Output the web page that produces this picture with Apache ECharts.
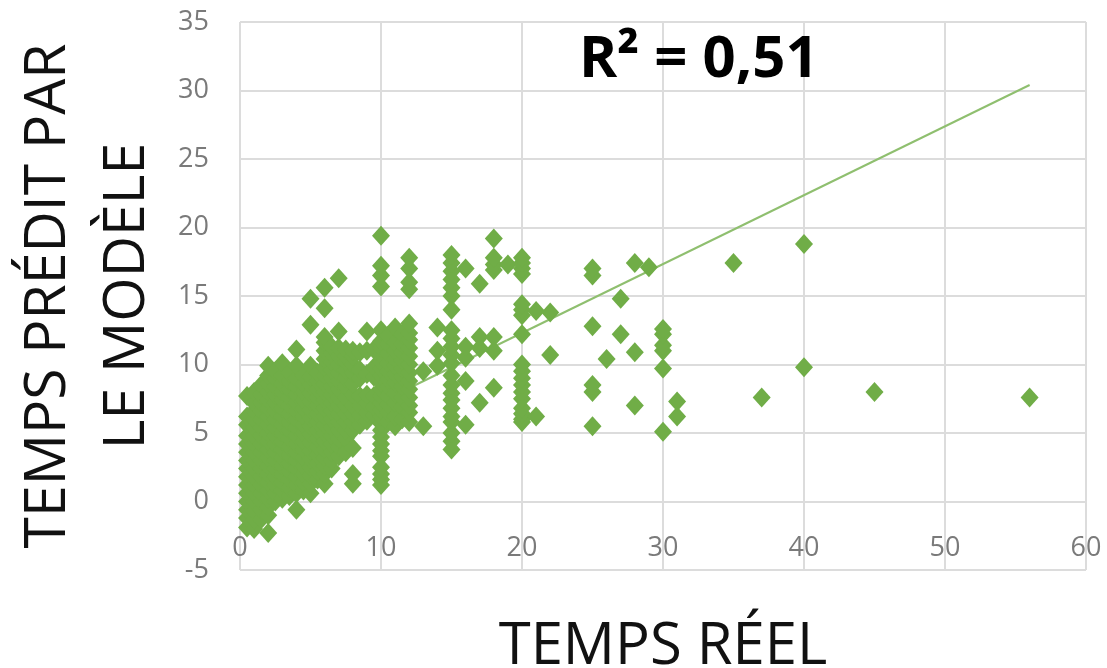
<!DOCTYPE html>
<html>
<head>
<meta charset="utf-8">
<style>html,body{margin:0;padding:0;background:#fff}#c{width:1107px;height:668px}</style>
<script src="https://cdn.jsdelivr.net/npm/echarts@6/dist/echarts.min.js"></script>
</head>
<body>
<div id="c"></div>
<script>
const columnX = [0.5,1,1.5,2,2.5,3,3.5,4,4.5,5,5.5,6,6.5,7,7.5,8,8.5,9,9.5,10,10.5,11,11.5,12,13,14,15,16,17,18,19,20,21,22,25,26,27,28,29,30,31,35,37,40,45,56];
const columnY = [
 [-1.9,-1.2,-0.6,0,0.6,1.2,1.8,2.4,3,3.6,4.2,4.8,5.6,6.2,7.7],
 [-2,-1.3,-0.7,0,0.6,1.2,1.8,2.4,3,3.6,4.2,4.8,5.4,6,6.6,7.2,8],
 [-1.3,-0.6,0,0.6,1.2,1.8,2.4,3,3.6,4.2,4.8,5.4,6,6.6,7.2,7.8,8.5],
 [-2.3,-1,-0.4,0.2,0.8,1.4,2,2.6,3.2,3.8,4.4,5,5.6,6.2,6.8,7.4,8,8.6,9.2,9.9],
 [0,0.6,1.2,1.8,2.4,3,3.6,4.2,4.8,5.4,6,6.6,7.2,7.8,8.4,9,9.5],
 [0.2,0.8,1.4,2,2.6,3.2,3.8,4.4,5,5.6,6.2,6.8,7.4,8,8.6,9.2,10.1],
 [0.4,1,1.6,2.2,2.8,3.4,4,4.6,5.2,5.8,6.4,7,7.6,8.2,8.8,9.4],
 [-0.6,0.6,1.2,1.8,2.4,3,3.6,4.2,4.8,5.4,6,6.6,7.2,7.8,8.4,9,9.9,11.1],
 [0.8,1.4,2,2.6,3.2,3.8,4.4,5,5.6,6.2,6.8,7.4,8,8.6,9.2],
 [0.6,1.3,1.9,2.5,3.1,3.7,4.3,4.9,5.5,6.1,6.7,7.3,7.9,8.5,9.1,9.9,12.9,14.8],
 [1.6,2.2,2.8,3.4,4,4.6,5.2,5.8,6.4,7,7.6,8.2,8.8,9.4],
 [1.3,2,2.6,3.2,3.8,4.4,5,5.6,6.2,6.8,7.4,8,8.6,9.2,9.8,10.4,11,11.6,12,14.1,15.6],
 [2.4,3,3.6,4.2,4.8,5.4,6,6.6,7.2,7.8,8.4,9,9.6,10.2,10.8,11.3],
 [3.3,4,4.6,5.2,5.8,6.4,7,7.6,8.2,8.8,9.4,10,10.6,11.2,12.4,16.3],
 [3.6,4.6,5.2,5.8,6.4,7,7.6,8.4,9,9.6,10.2,10.6,11.1],
 [1.3,2,3.9,5.2,5.8,6.4,7,7.8,8.6,9.4,10,10.6,11],
 [5.6,6.3,7,7.7,9,9.6,10.9],
 [5.9,6.5,7.2,7.8,9.3,11,12.4],
 [6.3,6.9,7.7,9.1,9.8,11.1],
 [1.2,1.6,2,2.5,3.3,3.7,4.2,4.7,5.2,5.7,6.2,6.7,7.2,7.7,8.2,8.7,9.2,9.7,10.2,10.7,11.2,11.7,12.5,15.7,16.5,17.2,19.4],
 [5.8,6.5,7.1,7.7,8.4,8.9,9.5,10.1,10.8,11.5,12.1],
 [5.5,6.2,7.2,7.9,8.7,9.3,9.9,10.4,11,11.6,12.7],
 [6,6.9,7.6,8.4,9.1,9.7,10.3,10.9,11.5,12.2],
 [5.8,6.5,7,7.6,8.2,8.8,9.4,10,10.6,11.2,11.8,12.3,13,15.5,16,17,17.8],
 [5.5,9.5],
 [9.9,11,12.7],
 [3.8,4.4,5,5.8,6.2,6.8,7.4,7.9,8.5,9.2,10.1,10.7,11.3,11.9,12.5,14,15,15.6,16.2,16.8,17.4,18],
 [5.6,8.8,10.5,11.3,17],
 [7.2,11.2,12,15.9],
 [8.3,11,12,16.9,17.3,17.8,19.2],
 [17.3],
 [5.8,6,6.4,6.8,7.5,8,8.5,9,9.5,10,12.2,13.6,14,14.4,16.6,17,17.4,17.8],
 [6.2,13.9],
 [10.7,13.8],
 [5.5,8,8.5,12.8,16.5,17],
 [10.4],
 [12.2,14.8],
 [7,10.9,17.4],
 [17.1],
 [5.1,9.7,11,11.4,12.2,12.6],
 [6.2,7.3],
 [17.4],
 [7.6],
 [9.8,18.8],
 [8],
 [7.6]
];
const trendX = [0.5,56];
const trendY = [2.5,30.4];
const xTicks = [0,60,10];
const yTicks = [-5,35,5];

const points = [];
columnX.forEach((x,i)=>columnY[i].forEach(y=>points.push([x,y])));
const font = '"Open Sans", sans-serif';
const chart = echarts.init(document.getElementById('c'),null,{renderer:'canvas'});
chart.setOption({
  animation:false,
  backgroundColor:'#fff',
  grid:{left:240,right:21,top:22,bottom:98,outerBoundsMode:'none'},
  xAxis:{type:'value',min:xTicks[0],max:xTicks[1],interval:xTicks[2],
    axisLine:{show:false},axisTick:{show:false},
    axisLabel:{color:'#7a7a7a',fontSize:27,fontFamily:font,margin:-35},
    splitLine:{show:true,lineStyle:{color:'#dcdcdc',width:2}},
    name:'TEMPS RÉEL',nameLocation:'middle',nameGap:48,
    nameTextStyle:{color:'#111',fontSize:58,fontFamily:font}},
  yAxis:{type:'value',min:yTicks[0],max:yTicks[1],interval:yTicks[2],
    axisLine:{show:false},axisTick:{show:false},
    axisLabel:{color:'#7a7a7a',fontSize:27,fontFamily:font,margin:31,padding:[4,0,0,0]},
    splitLine:{show:true,lineStyle:{color:'#dcdcdc',width:2}},
    name:'TEMPS PRÉDIT PAR\nLE MODÈLE',nameLocation:'middle',nameGap:65,
    nameTextStyle:{color:'#111',fontSize:57,fontFamily:font,lineHeight:79}},
  series:[
    {type:'line',data:trendX.map((x,i)=>[x,trendY[i]]),showSymbol:false,silent:true,z:2,
      lineStyle:{color:'#8fbf6f',width:2}},
    {type:'scatter',data:points,symbol:'diamond',symbolSize:[18,20],z:3,
      itemStyle:{color:'#70ad47',opacity:1}}
  ],
  graphic:[{type:'text',z:100,left:579,top:31,style:{text:'R² = 0,51',fill:'#000',
    font:'bold 58px '+font}}]
});
</script>
</body>
</html>
